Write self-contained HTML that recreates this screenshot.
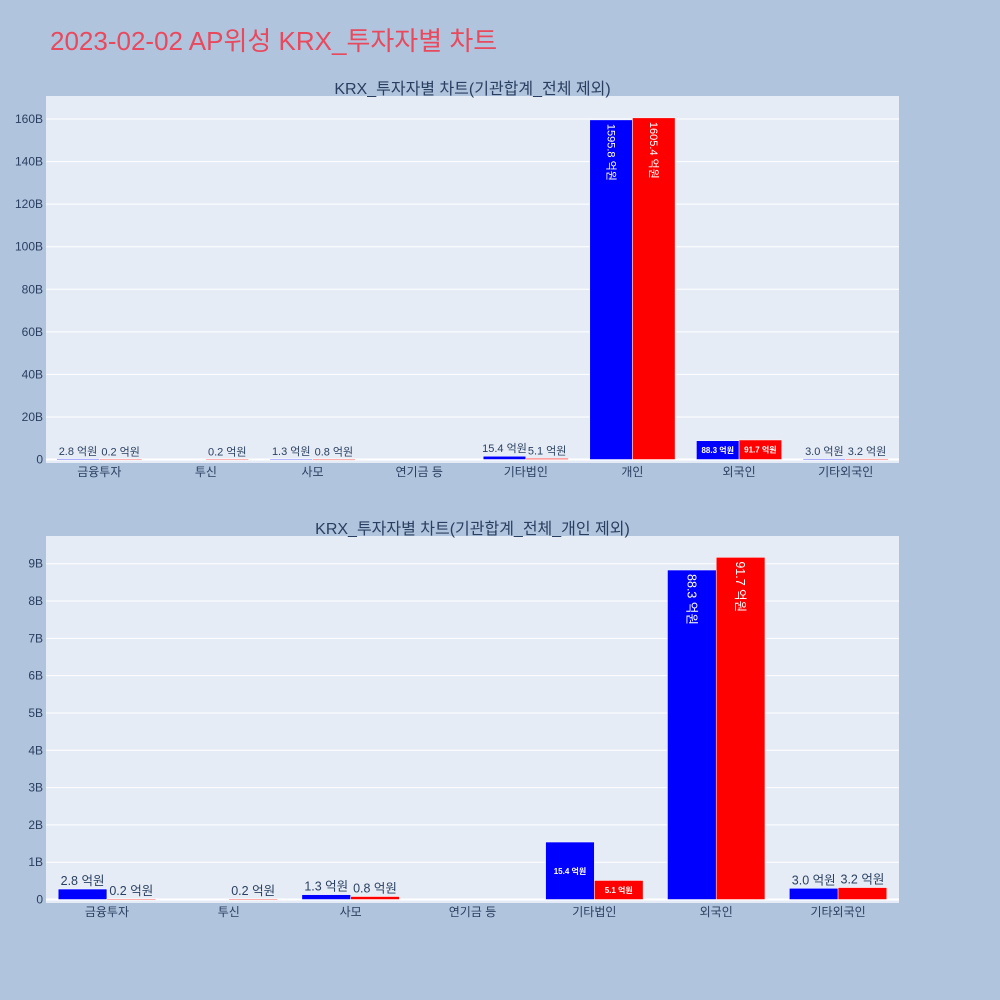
<!DOCTYPE html>
<html><head><meta charset="utf-8">
<style>
body{margin:0;background:#b0c4de;}
svg{display:block;font-family:"Liberation Sans","Noto Sans CJK KR",sans-serif;}
</style></head>
<body>
<svg id="c" width="1000" height="1000" xmlns="http://www.w3.org/2000/svg">
<rect width="1000" height="1000" fill="#b0c4de"/>
<text x="50" y="50" font-size="26" fill="#e8495d">2023-02-02 AP위성 KRX_투자자별 차트</text>
</svg>
<script>
const cats1 = ["금융투자","투신","사모","연기금 등","기타법인","개인","외국인","기타외국인"];
const buy1 = [2.8, 0, 1.3, 0, 15.4, 1595.8, 88.3, 3.0];
const sell1 = [0.2, 0.2, 0.8, 0, 5.1, 1605.4, 91.7, 3.2];
const ticks1 = [0,20,40,60,80,100,120,140,160];
const cats2 = ["금융투자","투신","사모","연기금 등","기타법인","외국인","기타외국인"];
const buy2 = [2.8, 0, 1.3, 0, 15.4, 88.3, 3.0];
const sell2 = [0.2, 0.2, 0.8, 0, 5.1, 91.7, 3.2];
const ticks2 = [0,1,2,3,4,5,6,7,8,9];

const svg = document.getElementById('c');
const NS = "http://www.w3.org/2000/svg";
function mk(tag, attrs, parent){const e=document.createElementNS(NS,tag);for(const k in attrs)e.setAttribute(k,attrs[k]);(parent||svg).appendChild(e);return e;}

function panel(p){
  const g = mk('g',{});
  
  
  const bg = mk('rect',{x:p.x0,y:p.top,width:p.x1-p.x0,height:p.bot-p.top,fill:'#e5ecf6'},g);
  
  
  const yScale = v => p.zeroY - (v - 0) * p.pxPerUnit;
  // grid + ticks
  p.ticks.forEach(t=>{
    const y = yScale(t*p.tickMult);
    const ln = mk('line',{x1:p.x0,x2:p.x1,y1:y,y2:y,stroke:'#fff','stroke-width':t===0?2:1},g);
    
    
    const tx = mk('text',{x:p.x0-3,y:y+4,'text-anchor':'end','font-size':12,fill:'#2a3f5f'},g);
    tx.textContent = t===0?'0':t+'B';
    
    
  });
  const n = p.cats.length, cw = (p.x1-p.x0)/n, bw = cw*0.4;
  p.cats.forEach((c,i)=>{
    const cx = p.x0 + cw*(i+0.5);
    const xl = mk('text',{x:cx,y:p.bot+13,'text-anchor':'middle','font-size':12,fill:'#2a3f5f'},g);
    xl.textContent = c;
    
    
    [[p.buy[i],'#0000ff',cx-bw,'bar-buy'],[p.sell[i],'#ff0000',cx,'bar-sell']].forEach(([v,col,bx,nm])=>{
      if(v===0) return;
      const y = yScale(v*0.1);
      const h = p.zeroY - y;
      const r = mk('rect',{x:bx,y:y,width:bw,height:Math.max(h,0.8),fill:col,stroke:'#fff','stroke-width':0.5},g);
      
      
      const label = v.toFixed(1)+' 억원';
      let t;
      if(h>=60){
        t = mk('text',{x:0,y:0,'font-size':p.fs,fill:'#fff',transform:`translate(${bx+bw/2-p.fs*0.35},${y+4}) rotate(90)`},g);
      } else if(h>=12){
        t = mk('text',{x:bx+bw/2,y:y+h/2+3,'text-anchor':'middle','font-size':8,'font-weight':'bold',fill:'#fff'},g);
      } else {
        t = mk('text',{x:bx+bw/2,y:y-4,'text-anchor':'middle','font-size':p.fs,fill:'#2a3f5f'},g);
      }
      t.textContent = label;
      
      
    });
  });
  const tt = mk('text',{x:(p.x0+p.x1)/2,y:p.top-2,'text-anchor':'middle','font-size':16,fill:'#2a3f5f'},g);
  tt.textContent = p.title;
  
  
}
panel({name:'top-chart',title:'KRX_투자자별 차트(기관합계_전체 제외)',x0:46,x1:899,top:96,bot:463,zeroY:459.5,pxPerUnit:(459.5-119)/160,ticks:ticks1,tickMult:1,cats:cats1,buy:buy1,sell:sell1,fs:11});
panel({name:'bottom-chart',title:'KRX_투자자별 차트(기관합계_전체_개인 제외)',x0:46,x1:899,top:536,bot:903,zeroY:899.5,pxPerUnit:(899.5-563.7)/9,ticks:ticks2,tickMult:1,cats:cats2,buy:buy2,sell:sell2,fs:12.5});
</script>
</body></html>
